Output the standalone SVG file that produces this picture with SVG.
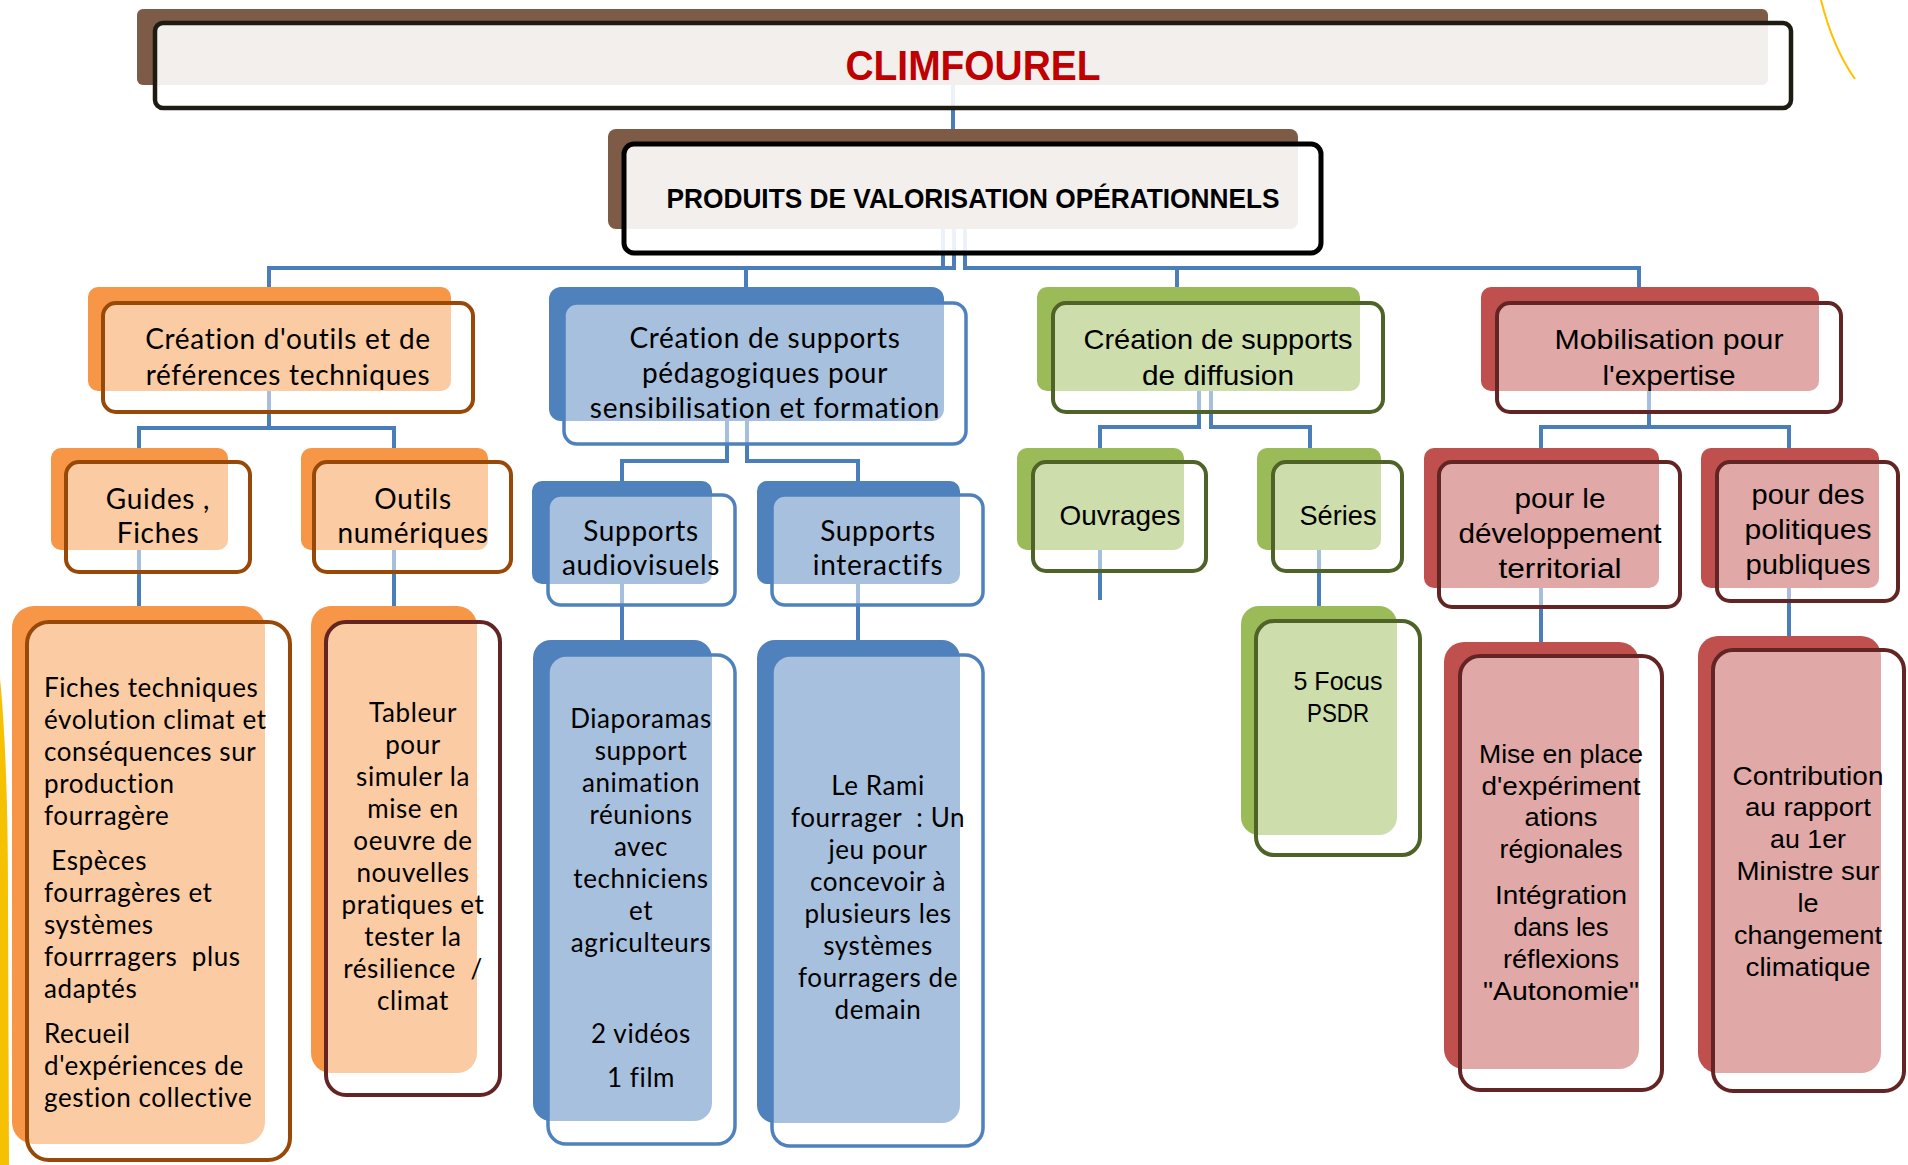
<svg xmlns="http://www.w3.org/2000/svg" width="1908" height="1165" viewBox="0 0 1908 1165">
<style>
.conn{fill:none;stroke:#4A7EBB;stroke-width:4;stroke-linejoin:miter}
.ov{fill:#fff;fill-opacity:.5}
.ovt{fill:#fff;fill-opacity:.9}
.bo{fill:#F79646}.bb{fill:#4F81BD}.bg{fill:#9BBB59}.br{fill:#C0504D}.bn{fill:#7D5B46}
.so{stroke:#984807;stroke-width:4}.sb{stroke:#4F81BD;stroke-width:3.5}.sg{stroke:#4F6228;stroke-width:4}.sr{stroke:#632523;stroke-width:4}.sk{stroke:#1E1C12;stroke-width:4.5}
.s{font-family:Lato,'Open Sans',sans-serif;fill:#000;text-anchor:middle;white-space:pre}
.s28{font-size:28px;letter-spacing:0.7px}.s26{font-size:26px;letter-spacing:0.6px}
.l{text-anchor:start}
.c{font-family:'Liberation Sans',Arial,sans-serif;fill:#000;text-anchor:middle;white-space:pre}
.c28{font-size:28px}.c26{font-size:26px}
.tb{font-family:'Liberation Sans',Arial,sans-serif;font-weight:bold;text-anchor:middle}
</style>
<path d="M0 678 Q 8 760 8 900 L 9 1165 L 0 1165 Z" fill="#F5C100"/>
<path d="M1821 0 Q 1833 48 1855 79" fill="none" stroke="#FFC000" stroke-width="2"/>
<g id="connectors">
<path class="conn" d="M953 85 V129"/>
<path class="conn" d="M943 229 V268 H269 V287"/>
<path class="conn" d="M954 229 V268 H746 V287"/>
<path class="conn" d="M965 229 V268 H1177 V287"/>
<path class="conn" d="M965 229 V268 H1639 V287"/>
<path class="conn" d="M269 391 V428 H139 V448"/>
<path class="conn" d="M269 391 V428 H394 V448"/>
<path class="conn" d="M727 421 V461 H622 V481"/>
<path class="conn" d="M747 421 V461 H858 V481"/>
<path class="conn" d="M1199 391 V427 H1100 V448"/>
<path class="conn" d="M1211 391 V427 H1310 V448"/>
<path class="conn" d="M1649 391 V427 H1541 V448"/>
<path class="conn" d="M1649 391 V427 H1789 V448"/>
<path class="conn" d="M139 550 V606"/>
<path class="conn" d="M394 550 V606"/>
<path class="conn" d="M622 584 V640"/>
<path class="conn" d="M858 584 V640"/>
<path class="conn" d="M1100 550 V600"/>
<path class="conn" d="M1319 550 V606"/>
<path class="conn" d="M1541 588 V642"/>
<path class="conn" d="M1789 588 V636"/>
</g>
<g id="title">
<rect class="bn" x="137" y="9" width="1631" height="76" rx="6"/>
<rect class="ovt sk" x="155" y="23" width="1636" height="85" rx="8"/>
<text class="tb" x="973" y="80" font-size="42" fill="#C00000" textLength="255" lengthAdjust="spacingAndGlyphs">CLIMFOUREL</text>
</g>
<g id="produits">
<rect class="bn" x="608" y="129" width="690" height="100" rx="8"/>
<rect class="ovt" x="624" y="144" width="697" height="109" rx="10" stroke="#000" stroke-width="5"/>
<text class="tb" x="973" y="208" font-size="28" fill="#000" textLength="613" lengthAdjust="spacingAndGlyphs">PRODUITS DE VALORISATION OPÉRATIONNELS</text>
</g>
<g id="outils-references">
<rect class="bo" x="88" y="287" width="363" height="104" rx="10"/>
<rect class="ov so" x="103" y="303" width="370" height="109" rx="13"/>
<text class="s s28"><tspan x="288" y="349">Création d'outils et de</tspan><tspan x="288" y="385">références techniques</tspan></text>
</g>
<g id="supports-pedagogiques">
<rect class="bb" x="549" y="287" width="395" height="134" rx="12"/>
<rect class="ov sb" x="564" y="303" width="402" height="141" rx="13"/>
<text class="s s28"><tspan x="765" y="348">Création de supports</tspan><tspan x="765" y="383">pédagogiques pour</tspan><tspan x="765" y="418">sensibilisation et formation</tspan></text>
</g>
<g id="supports-diffusion">
<rect class="bg" x="1037" y="287" width="323" height="104" rx="10"/>
<rect class="ov sg" x="1053" y="303" width="330" height="109" rx="13"/>
<text class="c c28"><tspan x="1218" y="349" textLength="269" lengthAdjust="spacingAndGlyphs">Création de supports</tspan><tspan x="1218" y="385" textLength="152" lengthAdjust="spacingAndGlyphs">de diffusion</tspan></text>
</g>
<g id="mobilisation">
<rect class="br" x="1481" y="287" width="338" height="104" rx="10"/>
<rect class="ov sr" x="1497" y="303" width="344" height="109" rx="13"/>
<text class="c c28"><tspan x="1669" y="349" textLength="229" lengthAdjust="spacingAndGlyphs">Mobilisation pour</tspan><tspan x="1669" y="385" textLength="133" lengthAdjust="spacingAndGlyphs">l'expertise</tspan></text>
</g>
<g id="guides">
<rect class="bo" x="51" y="448" width="177" height="102" rx="10"/>
<rect class="ov so" x="66" y="462" width="184" height="110" rx="13"/>
<text class="s s28"><tspan x="158" y="509">Guides ,</tspan><tspan x="158" y="543">Fiches</tspan></text>
</g>
<g id="outils-numeriques">
<rect class="bo" x="301" y="448" width="187" height="102" rx="10"/>
<rect class="ov so" x="314" y="462" width="197" height="110" rx="13"/>
<text class="s s28"><tspan x="413" y="509">Outils</tspan><tspan x="413" y="543">numériques</tspan></text>
</g>
<g id="audiovisuels">
<rect class="bb" x="532" y="481" width="180" height="103" rx="10"/>
<rect class="ov sb" x="548" y="495" width="187" height="110" rx="13"/>
<text class="s s28"><tspan x="641" y="541">Supports</tspan><tspan x="641" y="575">audiovisuels</tspan></text>
</g>
<g id="interactifs">
<rect class="bb" x="757" y="481" width="203" height="103" rx="10"/>
<rect class="ov sb" x="772" y="495" width="211" height="110" rx="13"/>
<text class="s s28"><tspan x="878" y="541">Supports</tspan><tspan x="878" y="575">interactifs</tspan></text>
</g>
<g id="ouvrages">
<rect class="bg" x="1017" y="448" width="167" height="102" rx="10"/>
<rect class="ov sg" x="1033" y="462" width="173" height="109" rx="13"/>
<text class="c c28" x="1120" y="525" textLength="121" lengthAdjust="spacingAndGlyphs">Ouvrages</text>
</g>
<g id="series">
<rect class="bg" x="1257" y="448" width="124" height="102" rx="10"/>
<rect class="ov sg" x="1273" y="462" width="129" height="109" rx="13"/>
<text class="c c28" x="1338" y="525" textLength="77" lengthAdjust="spacingAndGlyphs">Séries</text>
</g>
<g id="developpement">
<rect class="br" x="1424" y="448" width="235" height="140" rx="10"/>
<rect class="ov sr" x="1439" y="462" width="241" height="145" rx="13"/>
<text class="c c28"><tspan x="1560" y="508" textLength="91" lengthAdjust="spacingAndGlyphs">pour le</tspan><tspan x="1560" y="543" textLength="203" lengthAdjust="spacingAndGlyphs">développement</tspan><tspan x="1560" y="578" textLength="123" lengthAdjust="spacingAndGlyphs">territorial</tspan></text>
</g>
<g id="politiques">
<rect class="br" x="1701" y="448" width="178" height="140" rx="10"/>
<rect class="ov sr" x="1717" y="462" width="181" height="139" rx="13"/>
<text class="c c28"><tspan x="1808" y="504" textLength="113" lengthAdjust="spacingAndGlyphs">pour des</tspan><tspan x="1808" y="539" textLength="127" lengthAdjust="spacingAndGlyphs">politiques</tspan><tspan x="1808" y="574" textLength="125" lengthAdjust="spacingAndGlyphs">publiques</tspan></text>
</g>
<g id="fiches-techniques">
<rect class="bo" x="12" y="606" width="253" height="538" rx="22"/>
<rect class="ov so" x="27" y="622" width="263" height="538" rx="22"/>
<text class="s s26 l"><tspan x="44" y="697">Fiches techniques</tspan><tspan x="44" y="729">évolution climat et</tspan><tspan x="44" y="761">conséquences sur</tspan><tspan x="44" y="793">production</tspan><tspan x="44" y="825">fourragère</tspan><tspan x="44" y="870"> Espèces</tspan><tspan x="44" y="902">fourragères et</tspan><tspan x="44" y="934">systèmes</tspan><tspan x="44" y="966">fourrragers  plus</tspan><tspan x="44" y="998">adaptés</tspan><tspan x="44" y="1043">Recueil</tspan><tspan x="44" y="1075">d'expériences de</tspan><tspan x="44" y="1107">gestion collective</tspan></text>
</g>
<g id="tableur">
<rect class="bo" x="311" y="606" width="166" height="467" rx="20"/>
<rect class="ov sr" x="326" y="622" width="174" height="473" rx="20"/>
<text class="s s26"><tspan x="413" y="722">Tableur</tspan><tspan x="413" y="754">pour</tspan><tspan x="413" y="786">simuler la</tspan><tspan x="413" y="818">mise en</tspan><tspan x="413" y="850">oeuvre de</tspan><tspan x="413" y="882">nouvelles</tspan><tspan x="413" y="914">pratiques et</tspan><tspan x="413" y="946">tester la</tspan><tspan x="413" y="978">résilience  /</tspan><tspan x="413" y="1010">climat</tspan></text>
</g>
<g id="diaporamas">
<rect class="bb" x="533" y="640" width="179" height="481" rx="18"/>
<rect class="ov sb" x="548" y="655" width="187" height="489" rx="18"/>
<text class="s s26"><tspan x="641" y="728">Diaporamas</tspan><tspan x="641" y="760">support</tspan><tspan x="641" y="792">animation</tspan><tspan x="641" y="824">réunions</tspan><tspan x="641" y="856">avec</tspan><tspan x="641" y="888">techniciens</tspan><tspan x="641" y="920">et</tspan><tspan x="641" y="952">agriculteurs</tspan><tspan x="641" y="1043">2 vidéos</tspan><tspan x="641" y="1087">1 film</tspan></text>
</g>
<g id="rami">
<rect class="bb" x="757" y="640" width="203" height="483" rx="18"/>
<rect class="ov sb" x="772" y="655" width="211" height="491" rx="18"/>
<text class="s s26"><tspan x="878" y="795">Le Rami</tspan><tspan x="878" y="827">fourrager  : Un</tspan><tspan x="878" y="859">jeu pour</tspan><tspan x="878" y="891">concevoir à</tspan><tspan x="878" y="923">plusieurs les</tspan><tspan x="878" y="955">systèmes</tspan><tspan x="878" y="987">fourragers de</tspan><tspan x="878" y="1019">demain</tspan></text>
</g>
<g id="focus-psdr">
<rect class="bg" x="1241" y="606" width="156" height="229" rx="18"/>
<rect class="ov sg" x="1256" y="621" width="164" height="234" rx="18"/>
<text class="c c26"><tspan x="1338" y="690" textLength="89" lengthAdjust="spacingAndGlyphs">5 Focus</tspan><tspan x="1338" y="722" textLength="62" lengthAdjust="spacingAndGlyphs">PSDR</tspan></text>
</g>
<g id="experimentations">
<rect class="br" x="1444" y="642" width="195" height="427" rx="20"/>
<rect class="ov sr" x="1460" y="656" width="202" height="434" rx="20"/>
<text class="c c26"><tspan x="1561" y="763" textLength="164" lengthAdjust="spacingAndGlyphs">Mise en place</tspan><tspan x="1561" y="795" textLength="159" lengthAdjust="spacingAndGlyphs">d'expériment</tspan><tspan x="1561" y="826" textLength="73" lengthAdjust="spacingAndGlyphs">ations</tspan><tspan x="1561" y="858" textLength="123" lengthAdjust="spacingAndGlyphs">régionales</tspan><tspan x="1561" y="904" textLength="132" lengthAdjust="spacingAndGlyphs">Intégration</tspan><tspan x="1561" y="936" textLength="95" lengthAdjust="spacingAndGlyphs">dans les</tspan><tspan x="1561" y="968" textLength="116" lengthAdjust="spacingAndGlyphs">réflexions</tspan><tspan x="1561" y="1000" textLength="156" lengthAdjust="spacingAndGlyphs">"Autonomie"</tspan></text>
</g>
<g id="contribution">
<rect class="br" x="1698" y="636" width="183" height="437" rx="20"/>
<rect class="ov sr" x="1713" y="650" width="191" height="441" rx="20"/>
<text class="c c26"><tspan x="1808" y="785" textLength="151" lengthAdjust="spacingAndGlyphs">Contribution</tspan><tspan x="1808" y="816" textLength="126" lengthAdjust="spacingAndGlyphs">au rapport</tspan><tspan x="1808" y="848" textLength="76" lengthAdjust="spacingAndGlyphs">au 1er</tspan><tspan x="1808" y="880" textLength="143" lengthAdjust="spacingAndGlyphs">Ministre sur</tspan><tspan x="1808" y="912" textLength="21" lengthAdjust="spacingAndGlyphs">le</tspan><tspan x="1808" y="944" textLength="148" lengthAdjust="spacingAndGlyphs">changement</tspan><tspan x="1808" y="976" textLength="125" lengthAdjust="spacingAndGlyphs">climatique</tspan></text>
</g>
</svg>
